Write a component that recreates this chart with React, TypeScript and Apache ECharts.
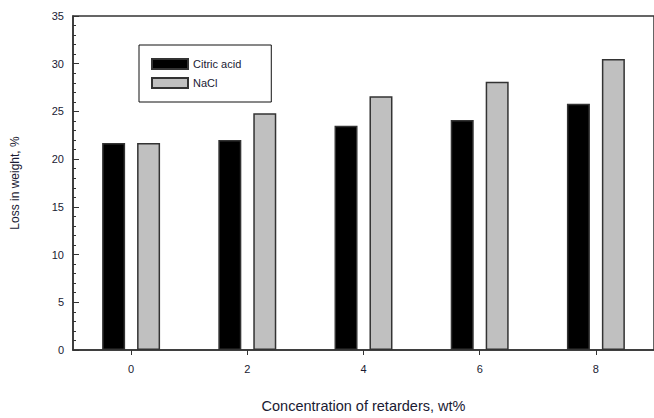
import React, { useEffect, useRef } from "react";
import * as echarts from "echarts";

const concentrations = [0, 2, 4, 6, 8];
const citricAcid = [21.7, 22.0, 23.5, 24.1, 25.8];
const naCl = [21.7, 24.8, 26.6, 28.1, 30.5];
const xTicks = [0, 2, 4, 6, 8];

const FONT = "Liberation Sans, Arial, sans-serif";

export default function App() {
  const ref = useRef<HTMLDivElement>(null);
  useEffect(() => {
    if (!ref.current) return;
    const chart = echarts.init(ref.current, null, { renderer: "svg" });
    const barStyle = { borderColor: "#333", borderWidth: 1.5 };
    chart.setOption({
      animation: false,
      backgroundColor: "#fff",
      textStyle: { fontFamily: FONT },
      grid: {
        left: 73,
        top: 16,
        height: 346,
        width: 589,
        show: true,
        borderColor: "#333",
        borderWidth: 1.5,
        backgroundColor: "transparent",
      },
      legend: {
        orient: "vertical",
        left: 139,
        top: 45,
        borderColor: "#111",
        borderWidth: 1,
        padding: [13, 30, 13, 12],
        icon: "rect",
        itemWidth: 36,
        itemHeight: 10,
        itemGap: 7,
        textStyle: { fontSize: 11, color: "#1a1a33", fontFamily: FONT },
        data: ["Citric acid", "NaCl"],
      },
      xAxis: {
        type: "value",
        min: -1,
        max: 9,
        name: "Concentration of retarders, wt%",
        nameLocation: "middle",
        nameGap: 48,
        nameTextStyle: { fontSize: 14.5, color: "#1a1a33", fontFamily: FONT },
        axisLine: { show: true, onZero: false, lineStyle: { color: "#333", width: 1.5 } },
        axisTick: {
          show: true,
          inside: false,
          length: 5,
          customValues: xTicks,
          lineStyle: { color: "#333" },
        },
        axisLabel: {
          customValues: xTicks,
          fontSize: 11,
          color: "#1a1a33",
          margin: 13,
          fontFamily: FONT,
        },
        splitLine: { show: false },
      },
      yAxis: {
        type: "value",
        min: 0,
        max: 35,
        interval: 5,
        name: "Loss in weight, %",
        nameLocation: "middle",
        nameGap: 52,
        nameTextStyle: { fontSize: 12, color: "#1a1a33", fontFamily: FONT },
        axisLine: { show: true, onZero: false, lineStyle: { color: "#333", width: 1.5 } },
        axisTick: { show: true, inside: true, length: 6, lineStyle: { color: "#333" } },
        minorTick: { show: true, splitNumber: 5, length: 3, lineStyle: { color: "#333" } },
        axisLabel: { fontSize: 11, color: "#1a1a33", margin: 9, fontFamily: FONT },
        splitLine: { show: false },
      },
      series: [
        {
          name: "Citric acid",
          type: "bar",
          barWidth: 23,
          barGap: "52%",
          itemStyle: { color: "#000", ...barStyle },
          data: concentrations.map((c, i) => [c, citricAcid[i]]),
        },
        {
          name: "NaCl",
          type: "bar",
          barWidth: 23,
          barGap: "52%",
          itemStyle: { color: "#c0c0c0", ...barStyle },
          data: concentrations.map((c, i) => [c, naCl[i]]),
        },
      ],
    });
    return () => chart.dispose();
  }, []);
  return (
    <div
      style={{
        position: "fixed",
        left: 0,
        top: 0,
        width: 654,
        height: 418,
        overflow: "hidden",
        background: "#fff",
      }}
    >
      <div ref={ref} style={{ width: 654, height: 418 }} />
    </div>
  );
}
